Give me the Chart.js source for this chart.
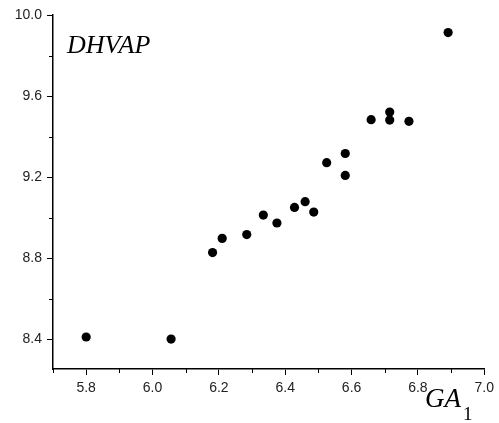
<!doctype html>
<html>
<head>
<meta charset="utf-8">
<title>DHVAP vs GA1</title>
<script src="https://cdn.jsdelivr.net/npm/chart.js@4"></script>
<style>
  html, body { margin: 0; padding: 0; background: #fff; }
  #wrap { width: 499px; height: 423px; position: relative; }
</style>
</head>
<body>
<div id="wrap"><canvas id="c"></canvas></div>
<script>
// данные
const ga1 = [5.800, 6.056, 6.181, 6.210, 6.284, 6.334, 6.375, 6.428, 6.460, 6.486,
             6.525, 6.581, 6.581, 6.659, 6.715, 6.715, 6.773, 6.891];
const dhvap = [8.410, 8.400, 8.827, 8.897, 8.916, 9.012, 8.973, 9.050, 9.078, 9.027,
               9.271, 9.316, 9.208, 9.483, 9.521, 9.481, 9.475, 9.913];

// деления осей
const xMajor = [5.8, 6.0, 6.2, 6.4, 6.6, 6.8, 7.0];
const xMinor = [5.7, 5.9, 6.1, 6.3, 6.5, 6.7, 6.9];
const yMajor = [8.4, 8.8, 9.2, 9.6, 10.0];
const yMinor = [8.6, 9.0, 9.4, 9.8];
const X_MIN = 5.7, X_MAX = 7.0, Y_MIN = 8.252, Y_MAX = 10.0;

const points = ga1.map((x, i) => ({ x, y: dhvap[i] }));

// малые деления + подписи осей (курсив, как в оригинале)
const extras = {
  id: 'extras',
  afterDraw(chart) {
    const { ctx, scales: { x, y } } = chart;
    ctx.save();
    ctx.strokeStyle = '#000';
    ctx.lineWidth = 1;
    ctx.beginPath();
    for (const v of xMinor) {
      const px = Math.round(x.getPixelForValue(v)) + 0.5;
      ctx.moveTo(px, y.bottom);
      ctx.lineTo(px, y.bottom + 4);
    }
    for (const v of yMinor) {
      const py = Math.round(y.getPixelForValue(v)) + 0.5;
      ctx.moveTo(x.left, py);
      ctx.lineTo(x.left - 4, py);
    }
    ctx.stroke();

    ctx.fillStyle = '#000';
    ctx.textBaseline = 'alphabetic';
    ctx.textAlign = 'left';
    ctx.font = 'italic 26px "Liberation Serif", "Times New Roman", serif';
    ctx.fillText('DHVAP', 67, 53);
    ctx.font = 'italic 27px "Liberation Serif", "Times New Roman", serif';
    ctx.fillText('GA', 425, 407);
    ctx.font = '19px "Liberation Serif", "Times New Roman", serif';
    ctx.fillText('1', 463, 420);
    ctx.restore();
  }
};

const tickFont = { family: '"Liberation Sans", Arial, sans-serif', size: 14 };

new Chart(document.getElementById('c'), {
  type: 'scatter',
  data: {
    datasets: [{
      data: points,
      backgroundColor: '#000',
      borderColor: '#000',
      pointRadius: 4.6,
      pointHoverRadius: 4.6,
      borderWidth: 0
    }]
  },
  options: {
    responsive: true,
    maintainAspectRatio: false,
    animation: false,
    events: [],
    layout: { padding: { left: 0, top: 15, right: 10, bottom: 0 } },
    plugins: { legend: { display: false }, tooltip: { enabled: false } },
    scales: {
      x: {
        type: 'linear',
        min: X_MIN, max: X_MAX,
        afterBuildTicks: (s) => { s.ticks = xMajor.map(v => ({ value: v })); },
        afterFit: (s) => { s.height = 54; },
        border: { display: true, color: '#000', width: 1.5 },
        grid: { drawOnChartArea: false, drawTicks: true, tickLength: 6, color: '#000', tickWidth: 1 },
        ticks: { color: '#222', font: tickFont, padding: 5, maxRotation: 0, autoSkip: false,
                 callback: (v) => Number(v).toFixed(1) }
      },
      y: {
        type: 'linear',
        min: Y_MIN, max: Y_MAX,
        afterBuildTicks: (s) => { s.ticks = yMajor.map(v => ({ value: v })); },
        afterFit: (s) => { s.width = 53; },
        border: { display: true, color: '#000', width: 1.5 },
        grid: { drawOnChartArea: false, drawTicks: true, tickLength: 6, color: '#000', tickWidth: 1 },
        ticks: { color: '#222', font: tickFont, padding: 5, autoSkip: false,
                 callback: (v) => Number(v).toFixed(1) }
      }
    }
  },
  plugins: [extras]
});
</script>
</body>
</html>
